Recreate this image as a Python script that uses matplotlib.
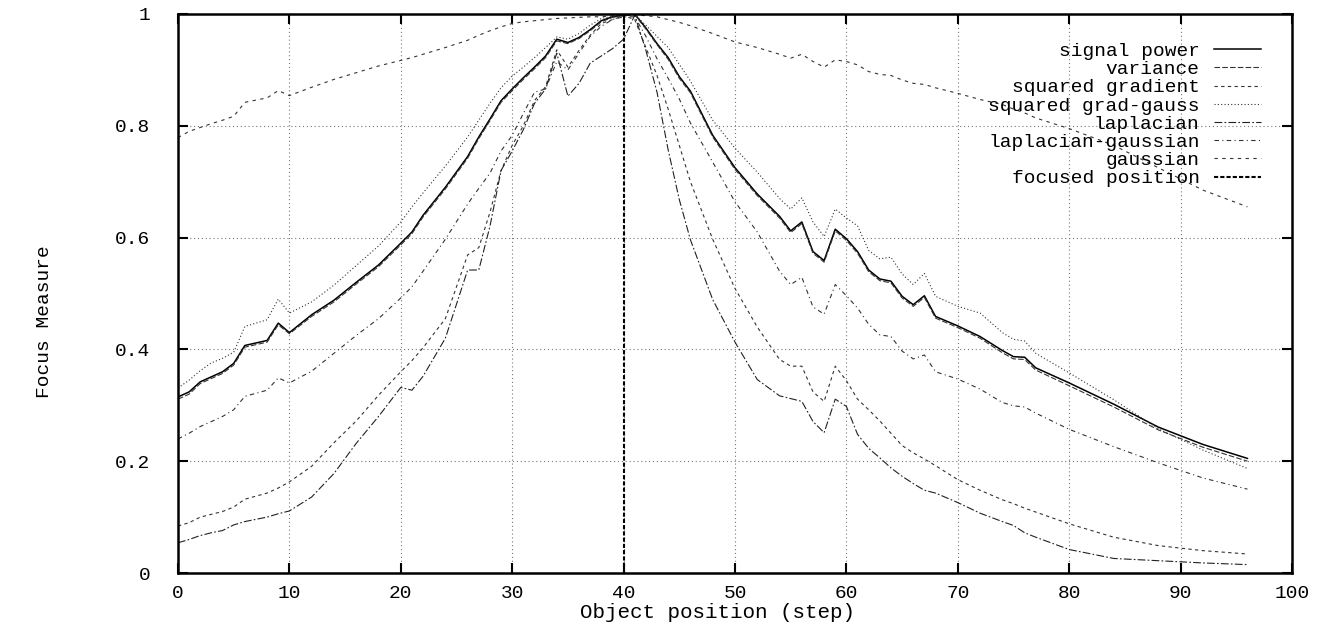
import matplotlib
matplotlib.use("Agg")
import matplotlib.pyplot as plt

# object positions (steps) where values were read
steps = [0, 1, 2, 3, 4, 5, 6, 8, 9, 10, 12, 14, 16, 18, 20, 21, 22, 24, 26, 27,
         28, 29, 30, 31, 32, 33, 34, 35, 36, 37, 38, 39, 40, 41, 42, 43, 44, 45,
         46, 48, 50, 52, 54, 55, 56, 57, 58, 59, 60, 61, 62, 63, 64, 65, 66, 67,
         68, 70, 72, 74, 75, 76, 77, 80, 84, 88, 92, 96]

signal_power = [0.315, 0.324, 0.342, 0.351, 0.360, 0.375, 0.407, 0.416, 0.447, 0.430,
                0.462, 0.488, 0.520, 0.551, 0.590, 0.610, 0.640, 0.690, 0.745, 0.780,
                0.812, 0.845, 0.866, 0.886, 0.905, 0.925, 0.955, 0.949, 0.958, 0.972,
                0.988, 0.995, 0.998, 1.000, 0.975, 0.947, 0.922, 0.888, 0.862, 0.783,
                0.725, 0.678, 0.638, 0.612, 0.628, 0.575, 0.559, 0.615, 0.598, 0.575,
                0.542, 0.526, 0.522, 0.495, 0.480, 0.496, 0.459, 0.442, 0.423, 0.398,
                0.387, 0.386, 0.367, 0.340, 0.302, 0.261, 0.230, 0.205]

variance = [0.311, 0.320, 0.339, 0.348, 0.357, 0.372, 0.404, 0.413, 0.444, 0.428,
            0.459, 0.485, 0.517, 0.548, 0.587, 0.607, 0.637, 0.687, 0.742, 0.777,
            0.809, 0.842, 0.863, 0.883, 0.902, 0.922, 0.952, 0.947, 0.956, 0.970,
            0.986, 0.994, 0.997, 0.999, 0.973, 0.945, 0.919, 0.885, 0.859, 0.780,
            0.722, 0.675, 0.635, 0.609, 0.625, 0.572, 0.556, 0.612, 0.595, 0.572,
            0.539, 0.523, 0.519, 0.492, 0.477, 0.493, 0.456, 0.439, 0.420, 0.394,
            0.383, 0.382, 0.363, 0.335, 0.297, 0.256, 0.225, 0.200]

squared_gradient = [0.084, 0.090, 0.100, 0.105, 0.110, 0.118, 0.132, 0.143, 0.152, 0.163,
                    0.191, 0.233, 0.272, 0.318, 0.360, 0.380, 0.403, 0.455, 0.569, 0.582,
                    0.645, 0.720, 0.765, 0.800, 0.845, 0.870, 0.936, 0.905, 0.935, 0.962,
                    0.983, 0.990, 0.997, 0.990, 0.940, 0.890, 0.830, 0.765, 0.700, 0.597,
                    0.509, 0.440, 0.382, 0.370, 0.370, 0.324, 0.307, 0.370, 0.344, 0.311,
                    0.292, 0.272, 0.250, 0.228, 0.215, 0.204, 0.192, 0.167, 0.148, 0.131,
                    0.124, 0.116, 0.109, 0.088, 0.064, 0.049, 0.040, 0.034]

squared_grad_gauss = [0.331, 0.345, 0.362, 0.376, 0.384, 0.395, 0.441, 0.453, 0.490, 0.465,
                      0.485, 0.515, 0.550, 0.585, 0.628, 0.655, 0.680, 0.728, 0.780, 0.810,
                      0.840, 0.868, 0.889, 0.905, 0.922, 0.940, 0.959, 0.955, 0.965, 0.980,
                      0.992, 0.996, 0.998, 0.998, 0.980, 0.960, 0.940, 0.910, 0.880, 0.810,
                      0.760, 0.717, 0.670, 0.651, 0.671, 0.628, 0.602, 0.651, 0.635, 0.621,
                      0.577, 0.562, 0.565, 0.535, 0.516, 0.536, 0.495, 0.477, 0.465, 0.430,
                      0.418, 0.415, 0.393, 0.358, 0.310, 0.258, 0.220, 0.187]

laplacian = [0.054, 0.060, 0.067, 0.072, 0.076, 0.086, 0.092, 0.100, 0.106, 0.111,
             0.136, 0.178, 0.232, 0.280, 0.332, 0.327, 0.352, 0.420, 0.542, 0.542,
             0.620, 0.720, 0.755, 0.793, 0.840, 0.866, 0.930, 0.853, 0.876, 0.912,
             0.925, 0.938, 0.955, 0.998, 0.935, 0.860, 0.757, 0.668, 0.596, 0.489,
             0.413, 0.346, 0.317, 0.312, 0.307, 0.271, 0.251, 0.311, 0.298, 0.248,
             0.223, 0.206, 0.188, 0.173, 0.160, 0.148, 0.143, 0.126, 0.107, 0.092,
             0.085, 0.072, 0.064, 0.042, 0.026, 0.022, 0.018, 0.015]

laplacian_gaussian = [0.240, 0.250, 0.262, 0.271, 0.280, 0.292, 0.316, 0.327, 0.349, 0.340,
                      0.361, 0.393, 0.425, 0.455, 0.492, 0.512, 0.540, 0.597, 0.660, 0.688,
                      0.715, 0.755, 0.783, 0.822, 0.860, 0.866, 0.915, 0.900, 0.930, 0.960,
                      0.978, 0.990, 0.995, 0.995, 0.960, 0.920, 0.885, 0.848, 0.805, 0.735,
                      0.664, 0.610, 0.540, 0.516, 0.529, 0.476, 0.463, 0.516, 0.496, 0.474,
                      0.445, 0.426, 0.423, 0.397, 0.383, 0.390, 0.360, 0.347, 0.329, 0.305,
                      0.299, 0.297, 0.286, 0.257, 0.226, 0.197, 0.170, 0.150]

gaussian = [0.779, 0.790, 0.797, 0.804, 0.810, 0.817, 0.842, 0.850, 0.863, 0.854,
            0.869, 0.883, 0.895, 0.907, 0.917, 0.922, 0.928, 0.940, 0.953, 0.962,
            0.970, 0.977, 0.983, 0.986, 0.988, 0.990, 0.992, 0.993, 0.994, 0.995,
            0.995, 0.997, 0.998, 0.998, 0.997, 0.995, 0.990, 0.985, 0.979, 0.965,
            0.950, 0.940, 0.928, 0.921, 0.928, 0.915, 0.905, 0.918, 0.915, 0.909,
            0.897, 0.892, 0.890, 0.882, 0.876, 0.874, 0.868, 0.858, 0.847, 0.838,
            0.830, 0.823, 0.814, 0.795, 0.765, 0.725, 0.685, 0.655]

focused_x = [40, 40]
focused_y = [0, 1]

mono = "Liberation Mono"
fs = 14

fig = plt.figure(figsize=(13.19, 6.25), dpi=100)
ax = fig.add_axes([178 / 1319, 52 / 625, 1114 / 1319, 559 / 625])

ax.plot(steps, signal_power, color="black", lw=1.1, ls="-", label="signal power")
ax.plot(steps, variance, color="#333333", lw=0.8, ls=(0, (5, 2)), label="variance")
ax.plot(steps, squared_gradient, color="#333333", lw=0.8, ls=(0, (3, 3)), label="squared gradient")
ax.plot(steps, squared_grad_gauss, color="#333333", lw=0.8, ls=(0, (1, 2)), label="squared grad-gauss")
ax.plot(steps, laplacian, color="#222222", lw=0.8, ls=(0, (7, 2, 1.5, 2)), label="laplacian")
ax.plot(steps, laplacian_gaussian, color="#333333", lw=0.8, ls=(0, (4, 3, 1, 3)), label="laplacian-gaussian")
ax.plot(steps, gaussian, color="#333333", lw=0.8, ls=(0, (3, 4)), label="gaussian")
ax.plot(focused_x, focused_y, color="black", lw=1.5, ls=(0, (2, 1)), label="focused position")

ax.set_xlim(0, 100)
ax.set_ylim(0, 1)
ax.set_xticks(range(0, 101, 10))
ax.set_yticks([0, 0.2, 0.4, 0.6, 0.8, 1])
ax.set_yticklabels(["0", "0.2", "0.4", "0.6", "0.8", "1"])
ax.grid(True, color="#777777", lw=0.8, ls=(0, (1, 2.5)))
ax.tick_params(direction="in", top=True, right=True, length=7, width=1.5,
               labelsize=fs)
ax.tick_params(axis="x", pad=9)
ax.tick_params(axis="y", pad=20)
for lab in ax.get_xticklabels() + ax.get_yticklabels():
    lab.set_family(mono)
for sp in ax.spines.values():
    sp.set_linewidth(1.8)

ax.set_xlabel("Object position (step)", family=mono, fontsize=fs + 1)
ax.xaxis.set_label_coords((718 - 178) / 1114, -(612 - 573) / 559)
ax.xaxis.label.set_va("center")
ax.set_ylabel("Focus Measure", family=mono, fontsize=fs)
ax.yaxis.set_label_coords(-(178 - 45) / 1114, (573 - 322) / 559)
ax.yaxis.label.set_va("center")

leg = ax.legend(loc="upper right", bbox_to_anchor=(0.979, 0.963), frameon=False,
                markerfirst=False, prop={"family": mono, "size": fs},
                handlelength=2.4, handletextpad=0.75, labelspacing=0.03,
                borderaxespad=0.0)

fig.savefig("out.png", dpi=100)
